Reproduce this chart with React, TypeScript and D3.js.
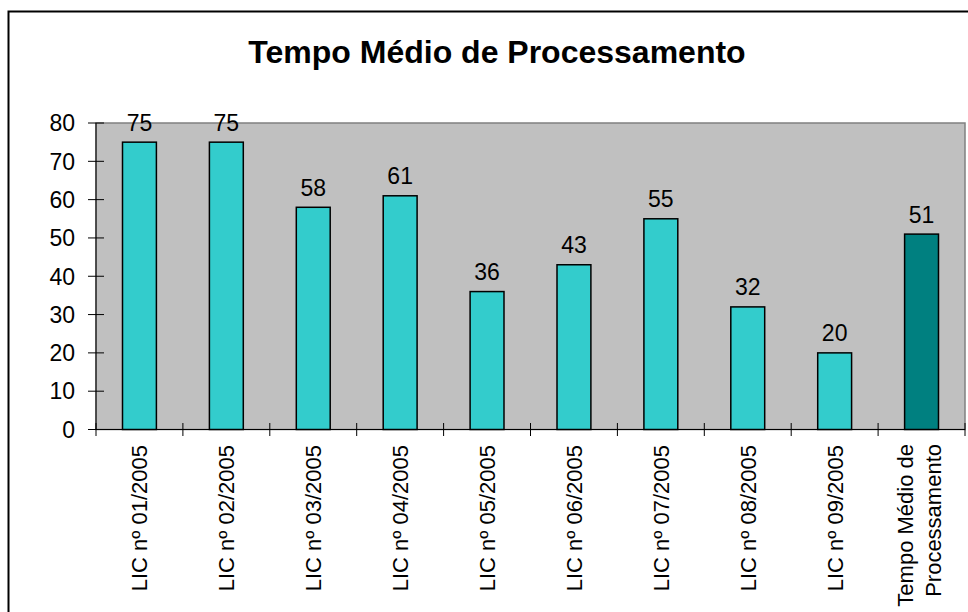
import React from "react";
import * as d3 from "d3";

const title = "Tempo Médio de Processamento";
const categories = [
  "LIC nº 01/2005",
  "LIC nº 02/2005",
  "LIC nº 03/2005",
  "LIC nº 04/2005",
  "LIC nº 05/2005",
  "LIC nº 06/2005",
  "LIC nº 07/2005",
  "LIC nº 08/2005",
  "LIC nº 09/2005",
  "Tempo Médio de\nProcessamento",
];
const values = [75, 75, 58, 61, 36, 43, 55, 32, 20, 51];
const barColors = ["#33CCCC", "#33CCCC", "#33CCCC", "#33CCCC", "#33CCCC", "#33CCCC", "#33CCCC", "#33CCCC", "#33CCCC", "#008080"];
const yTicks = [0, 10, 20, 30, 40, 50, 60, 70, 80];

const W = 968;
const H = 612;
const left = 96;
const right = 965;
const top = 123;
const bottom = 429.5;
const FONT = "'Liberation Sans', Arial, Helvetica, sans-serif";

export default function App() {
  const x = d3.scaleBand<string>().domain(categories).range([left, right]).paddingInner(0).paddingOuter(0);
  const y = d3.scaleLinear().domain([0, 80]).range([bottom, top]);
  const bw = x.bandwidth() * 0.39;

  return (
    <svg width={W} height={H} style={{ position: "absolute", left: 0, top: 0 }} fontFamily={FONT}>
      <rect x={0} y={0} width={W} height={H} fill="#fff" />
      <rect x={8.5} y={11.5} width={W + 10} height={H + 10} fill="none" stroke="#000" strokeWidth={2} />
      <text x={497} y={63} textAnchor="middle" fontWeight="bold" fontSize={32} fill="#000">
        {title}
      </text>
      <rect x={left} y={top} width={right - left} height={bottom - top} fill="#C0C0C0" stroke="#808080" strokeWidth={1.5} />
      {categories.map((c, i) => {
        const cx = x(c)! + x.bandwidth() / 2;
        return (
          <g key={c}>
            <rect
              x={cx - bw / 2}
              y={y(values[i])}
              width={bw}
              height={bottom - y(values[i])}
              fill={barColors[i]}
              stroke="#000"
              strokeWidth={1.5}
            />
            <text x={cx} y={y(values[i]) - 11.5} textAnchor="middle" fontSize={23} fill="#000">
              {values[i]}
            </text>
          </g>
        );
      })}
      <line x1={left} x2={left} y1={top} y2={bottom} stroke="#000" strokeWidth={1} />
      <line x1={left} x2={right} y1={bottom} y2={bottom} stroke="#000" strokeWidth={1.2} />
      {yTicks.map((t) => (
        <g key={t}>
          <line x1={left - 8} x2={left + 8} y1={y(t)} y2={y(t)} stroke="#000" strokeWidth={1} />
          <text x={75} y={y(t)} dy="0.36em" textAnchor="end" fontSize={23} fill="#000">
            {t}
          </text>
        </g>
      ))}
      {d3.range(categories.length + 1).map((k) => {
        const tx = left + k * x.step();
        return <line key={k} x1={tx} x2={tx} y1={bottom - 6.5} y2={bottom + 6.5} stroke="#000" strokeWidth={1} />;
      })}
      {categories.map((c) => {
        const cx = x(c)! + x.bandwidth() / 2;
        const lines = c.split("\n");
        if (lines.length === 1) {
          return (
            <text key={c} transform={`translate(${cx + 8},445) rotate(-90)`} textAnchor="end" fontSize={22} fill="#000">
              {c}
            </text>
          );
        }
        return (
          <g key={c}>
            {lines.map((l, j) => (
              <text
                key={j}
                transform={`translate(${cx - 9 + j * 28},444) rotate(-90)`}
                textAnchor="end"
                fontSize={22}
                fill="#000"
              >
                {l}
              </text>
            ))}
          </g>
        );
      })}
    </svg>
  );
}
